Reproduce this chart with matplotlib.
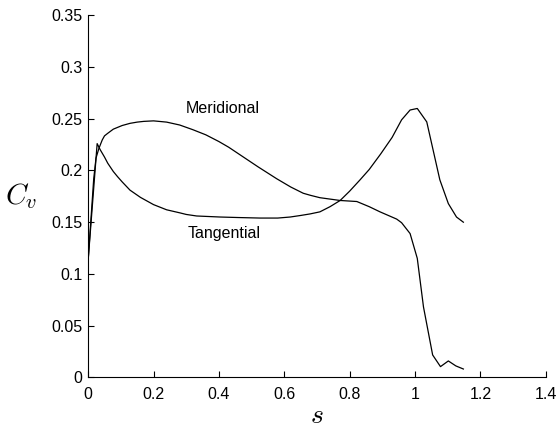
import matplotlib
matplotlib.use('Agg')
from matplotlib import pyplot as plt

# Meridional curve
s_mer = [0, 0.017, 0.024, 0.033, 0.043, 0.05, 0.06, 0.077, 0.104, 0.128, 0.15, 0.17,
         0.2, 0.24, 0.28, 0.32, 0.36, 0.40, 0.43, 0.475, 0.52, 0.577, 0.62, 0.658, 0.68,
         0.709, 0.771, 0.822, 0.86, 0.893, 0.944, 0.959, 0.985,
         1.007, 1.026, 1.054, 1.078, 1.102, 1.125, 1.148]
cv_mer = [0.1135, 0.192, 0.212, 0.2215, 0.2295, 0.2335, 0.236, 0.240, 0.2435, 0.2456, 0.2468, 0.2475,
          0.248, 0.2468, 0.244, 0.2395, 0.2345, 0.228, 0.2225, 0.213, 0.2035, 0.192, 0.184, 0.178, 0.176,
          0.1737, 0.171, 0.170, 0.165, 0.160, 0.153, 0.1495, 0.139,
          0.115, 0.068, 0.0216, 0.0103, 0.0158, 0.011, 0.008]

# Tangential curve
s_tan = [0, 0.0275, 0.037, 0.05, 0.06, 0.077, 0.09, 0.104, 0.128, 0.16, 0.2, 0.24,
         0.281, 0.3, 0.332, 0.404, 0.46, 0.526, 0.58, 0.618, 0.65, 0.679, 0.709,
         0.74, 0.771, 0.8, 0.832, 0.86, 0.895, 0.93, 0.959, 0.985, 1.007, 1.036,
         1.076, 1.102, 1.127, 1.148]
cv_tan = [0.1135, 0.226, 0.220, 0.213, 0.207, 0.199, 0.194, 0.189, 0.181, 0.174, 0.167, 0.162,
          0.159, 0.1575, 0.156, 0.155, 0.1545, 0.154, 0.154, 0.155, 0.1565, 0.158, 0.160,
          0.165, 0.171, 0.180, 0.191, 0.201, 0.216, 0.232, 0.249, 0.2585, 0.260, 0.247,
          0.191, 0.168, 0.155, 0.150]

xticks = [0, 0.2, 0.4, 0.6, 0.8, 1, 1.2, 1.4]
xticklabels = ['0', '0.2', '0.4', '0.6', '0.8', '1', '1.2', '1.4']
yticks = [0, 0.05, 0.1, 0.15, 0.2, 0.25, 0.3, 0.35]
yticklabels = ['0', '0.05', '0.1', '0.15', '0.2', '0.25', '0.3', '0.35']

plt.rcParams['font.family'] = ['Liberation Sans', 'DejaVu Sans']
plt.rcParams['mathtext.fontset'] = 'cm'

fig = plt.figure(figsize=(5.58, 4.28), dpi=100)
ax = fig.add_axes([0.158, 0.1185, 0.820, 0.8455])

ax.plot(s_mer, cv_mer, color='k', linewidth=0.9)
ax.plot(s_tan, cv_tan, color='k', linewidth=0.9)

ax.text(0.413, 0.260, 'Meridional', fontsize=11.5, ha='center', va='center')
ax.text(0.416, 0.1395, 'Tangential', fontsize=11.5, ha='center', va='center')

ax.set_xlim(0, 1.4)
ax.set_ylim(0, 0.35)
ax.set_xticks(xticks)
ax.set_xticklabels(xticklabels)
ax.set_yticks(yticks)
ax.set_yticklabels(yticklabels)
ax.tick_params(direction='in', length=4, width=0.8, labelsize=11.5)
ax.tick_params(axis='x', pad=7)
ax.tick_params(axis='y', pad=4)

ax.spines['top'].set_visible(False)
ax.spines['right'].set_visible(False)
for sp in ['left', 'bottom']:
    ax.spines[sp].set_linewidth(0.8)

ax.set_xlabel('$s$', fontsize=20, labelpad=1)
ax.set_ylabel('$C_v$', fontsize=21, rotation=0, labelpad=22, va='center')

fig.savefig('out.png', dpi=100)
